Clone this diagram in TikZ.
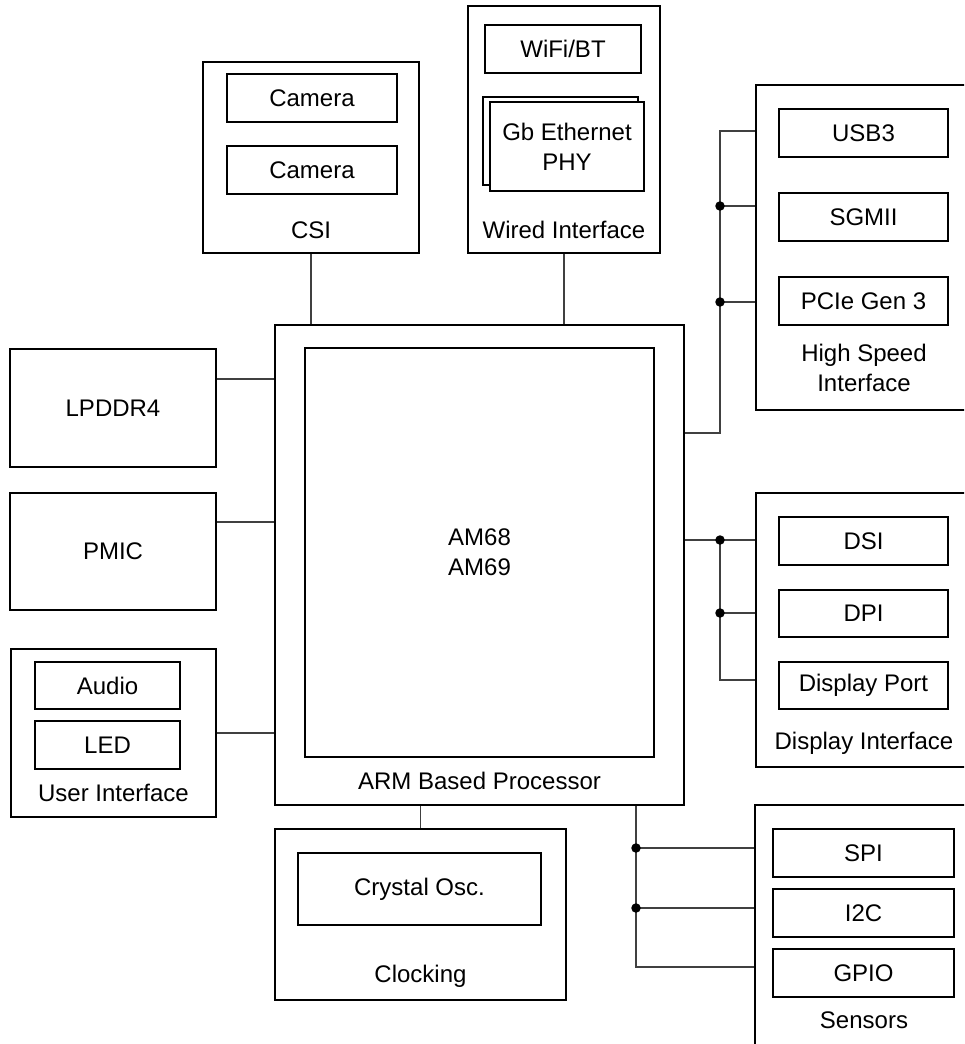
\documentclass[tikz,border=0pt]{standalone}
\usepackage{fontspec}
\setmainfont{Liberation Sans}
\begin{document}
\begin{tikzpicture}[x=1pt, y=-1pt,
  group/.style={draw, line width=1.8pt, inner sep=0pt},
  part/.style={draw, line width=1.8pt, inner sep=0pt, minimum height=48pt},
  txt/.style={align=center, inner sep=0pt},
  bus/.style={line width=1.1pt, black!75},
  dot/.style={circle, fill, inner sep=0pt, minimum size=9.5pt},
  every node/.style={font=\fontsize{24}{30}\selectfont}]
  \useasboundingbox (0,0) rectangle (964,1044);
  \clip (0,0) rectangle (964,1044);

  \node[group, minimum width=216pt, minimum height=191pt] (csi) at (311,157.5) {};
  \node[part, minimum width=170pt] (cam1) at (312,98) {Camera};
  \node[part, minimum width=170pt] (cam2) at (312,170) {Camera};
  \node[txt] (csilbl) at (311,230) {CSI};

  \node[group, minimum width=192pt, minimum height=247pt] (wired) at (564,129.5) {};
  \node[part, minimum width=156pt] (wifi) at (563,49) {WiFi/BT};
  \node[part, minimum width=155pt, minimum height=88pt] (ethb) at (560.5,141) {};
  \node[part, fill=white, minimum width=154pt, minimum height=89pt, align=center] (eth) at (567,146.5) {Gb Ethernet\\PHY};
  \node[txt] (wiredlbl) at (564,230) {Wired Interface};

  \node[group, minimum width=409pt, minimum height=480pt] (cpu) at (479.5,565) {};
  \node[group, minimum width=349pt, minimum height=409pt, align=center] (soc) at (479.5,552.5) {AM68\\AM69};
  \node[txt] (cpulbl) at (479.5,781) {ARM Based Processor};

  \node[group, minimum width=206pt, minimum height=118pt] (lpddr) at (113,408) {LPDDR4};
  \node[group, minimum width=206pt, minimum height=117pt] (pmic) at (113,551.5) {PMIC};

  \node[group, minimum width=205pt, minimum height=168pt] (ui) at (113.5,733) {};
  \node[part, minimum width=145pt, minimum height=47pt] (audio) at (107.5,685.5) {Audio};
  \node[part, minimum width=145pt] (led) at (107.5,745) {LED};
  \node[txt] (uilbl) at (113.5,793) {User Interface};

  \node[group, minimum width=291pt, minimum height=171pt] (clk) at (420.5,914.5) {};
  \node[part, minimum width=243pt, minimum height=72pt] (xtal) at (419.5,889) {Crystal Osc.};
  \node[txt] (clklbl) at (420.5,976) {Clocking};

  \node[group, minimum width=216pt, minimum height=325pt] (hsi) at (864,247.5) {};
  \node[part, minimum width=169pt] (usb) at (863.5,133) {USB3};
  \node[part, minimum width=169pt] (sgmii) at (863.5,217) {SGMII};
  \node[part, minimum width=169pt] (pcie) at (863.5,301) {PCIe Gen 3};
  \node[txt] (hsilbl) at (864,368) {High Speed\\Interface};

  \node[group, minimum width=216pt, minimum height=274pt] (disp) at (864,630) {};
  \node[part, minimum width=169pt] (dsi) at (863.5,541) {DSI};
  \node[part, minimum width=169pt, minimum height=47pt] (dpi) at (863.5,613.5) {DPI};
  \node[part, minimum width=169pt, minimum height=47pt] (dp) at (863.5,685.5) {Display Port};
  \node[txt] (displbl) at (864,743) {Display Interface};

  \node[group, minimum width=217pt, minimum height=255pt] (sens) at (863.5,932.5) {};
  \node[part, minimum width=181pt] (spi) at (863.5,853) {SPI};
  \node[part, minimum width=181pt] (i2c) at (863.5,913) {I2C};
  \node[part, minimum width=181pt] (gpio) at (863.5,973) {GPIO};
  \node[txt] (senslbl) at (864,1020) {Sensors};

  \coordinate (ddrY) at (0,379);
  \coordinate (pmicY) at (0,522);
  \coordinate (hsA) at (720,433);
  \coordinate (hsT) at (720,131);
  \coordinate (hsB) at (720,206);
  \coordinate (hsC) at (720,302);
  \coordinate (dsA) at (720,540);
  \coordinate (dsB) at (720,613);
  \coordinate (dsC) at (720,680);
  \coordinate (snA) at (636,848);
  \coordinate (snB) at (636,908);
  \coordinate (snC) at (636,967);

  \draw[bus] (csi.south) -- (csi.south |- cpu.north);
  \draw[bus] (wired.south) -- (wired.south |- cpu.north);
  \draw[bus] (lpddr.east |- ddrY) -- (cpu.west |- ddrY);
  \draw[bus] (pmic.east |- pmicY) -- (cpu.west |- pmicY);
  \draw[bus] (ui.east) -- (ui.east -| cpu.west);
  \draw[bus] (clk.north) -- (clk.north |- cpu.south);

  \draw[bus] (cpu.east |- hsA) -- (hsA) -- (hsT) -- (hsT -| hsi.west);
  \draw[bus] (hsB) -- (hsB -| hsi.west);
  \draw[bus] (hsC) -- (hsC -| hsi.west);
  \node[dot] (hsdot1) at (hsB) {};
  \node[dot] (hsdot2) at (hsC) {};

  \draw[bus] (cpu.east |- dsA) -- (dsA -| disp.west);
  \draw[bus] (dsA) -- (dsC) -- (dsC -| disp.west);
  \draw[bus] (dsB) -- (dsB -| disp.west);
  \node[dot] (dsdot1) at (dsA) {};
  \node[dot] (dsdot2) at (dsB) {};

  \draw[bus] (cpu.south -| snC) -- (snC) -- (snC -| sens.west);
  \draw[bus] (snA) -- (snA -| sens.west);
  \draw[bus] (snB) -- (snB -| sens.west);
  \node[dot] (sndot1) at (snA) {};
  \node[dot] (sndot2) at (snB) {};
\end{tikzpicture}
\end{document}
